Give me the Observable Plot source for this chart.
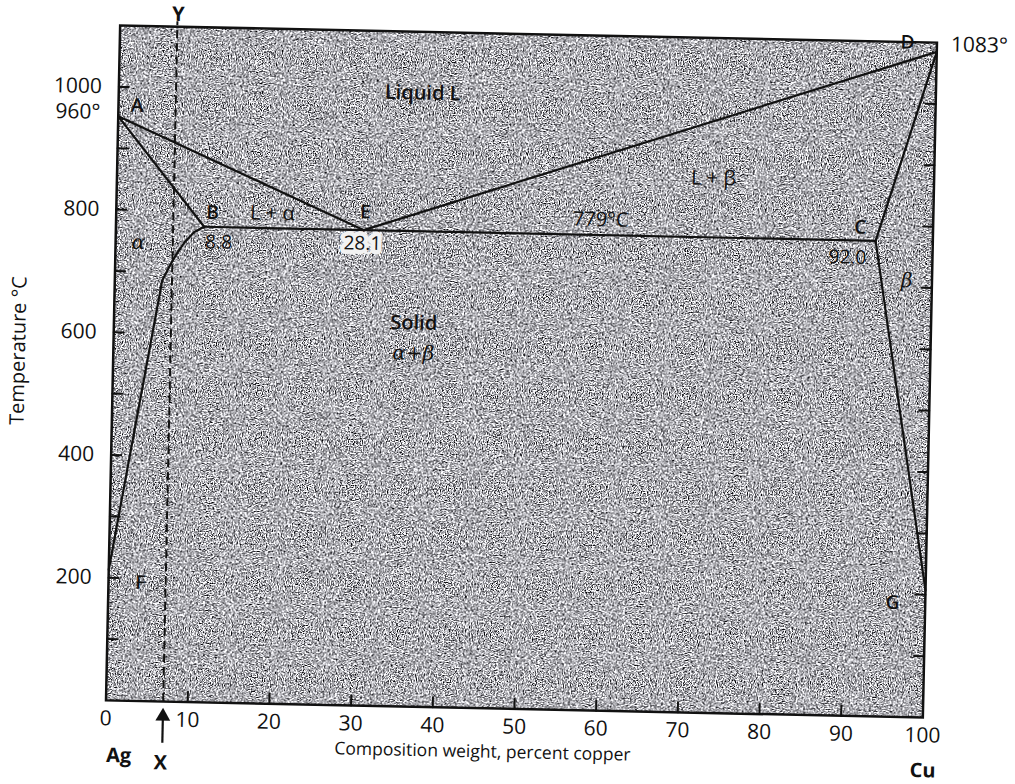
<!DOCTYPE html>
<html><head><meta charset="utf-8">
<script src="https://cdn.jsdelivr.net/npm/d3@7"></script>
<script src="https://cdn.jsdelivr.net/npm/@observablehq/plot@0.6"></script>
<style>
html,body{margin:0;padding:0;background:#fff;}
#chart svg{display:block;transform:rotate(1.2deg);transform-origin:521px 371px;overflow:visible;}
</style></head><body><div id="chart"></div>
<script>
// ---- data (composition % Cu, temperature °C) ----
const xTicks = [0, 10, 20, 30, 40, 50, 60, 70, 80, 90, 100];
const xInnerTicks = [10, 20, 30, 40, 50, 60, 70, 80, 90];
const yTickLabels = [200, 400, 600, 800, 1000];
const yTicks = [100, 200, 300, 400, 500, 600, 700, 800, 900, 1000];

const liquidusX = [0, 30.3, 100];
const liquidusT = [952, 775, 1085];
const solidusAlphaX = [0, 10.8];
const solidusAlphaT = [952, 775];
const eutecticX = [10.8, 93.0];
const eutecticT = [775, 775];
const solidusBetaX = [100, 93.0];
const solidusBetaT = [1085, 775];
const solvusAlphaX = [10.8, 9.6, 8.5, 7.5, 6.6, 5.8, 0];
const solvusAlphaT = [775, 766, 750, 730, 708, 686, 213];
const solvusBetaX = [93.0, 100];
const solvusBetaT = [775, 207];
const alloyX = 7;

const pointNames = ["A", "B", "C", "D", "E", "F", "G"];
const pointLabelX = [2.3, 11.8, 91.1, 96.4, 30.5, 3.9, 96.0];
const pointLabelT = [970, 798, 796, 1099, 804, 193, 186];

const compNames = ["8.8", "28.1", "92.0"];
const compLabelX = [12.6, 30.2, 89.6];
const compLabelT = [750, 753, 747];

const phaseNames = ["L + α", "L + β", "779°C"];
const phaseLabelX = [19.1, 73.0, 59.3];
const phaseLabelT = [799, 871, 800];

const greekNames = ["α", "β", "α+β"];
const greekLabelX = [2.8, 96.9, 36.7];
const greekLabelT = [747, 711, 576];

const boldNames = ["Liquid L", "Solid"];
const boldLabelX = [37.2, 36.7];
const boldLabelT = [1000, 625];

const outerNames = ["Y", "X", "Ag", "Cu"];
const outerLabelX = [7.1, 6.8, 1.7, 100.1];
const outerLabelT = [1120, -100, -90, -87];

const idx = a => a.map((_, i) => i);
const tickShape = {draw(ctx, l) { ctx.moveTo(0, 0); ctx.lineTo(0, -l); }};
const seg = (X, T) => X.map((x, i) => ({x, t: T[i]}));
const lineStyle = {x: "x", y: "t", stroke: "#111", strokeWidth: 2.2};

const plot = Plot.plot({
  width: 1015,
  height: 784,
  marginLeft: 112.5,
  marginRight: 85.5,
  marginTop: 33.5,
  marginBottom: 75.5,
  style: {fontFamily: "'Open Sans', sans-serif", color: "#111", background: "transparent"},
  x: {domain: [0, 100]},
  y: {domain: [0, 1100]},
  marks: [
    Plot.frame({fill: "#aaa", stroke: null}),
    Plot.axisX(xTicks, {tickSize: 0, tickPadding: 10, fontSize: 21, label: null, tickFormat: d => String(d)}),
    Plot.axisY(yTickLabels, {tickSize: 0, tickPadding: 17, fontSize: 21, label: null, tickFormat: d => String(d)}),
    Plot.text(["960°"], {x: () => 0, y: () => 958, dx: -18, textAnchor: "end", fontSize: 21}),
    Plot.text(["1083°"], {x: () => 101.7, y: () => 1097, textAnchor: "start", fontSize: 21}),
    Plot.text(["Composition weight, percent copper"], {x: () => 46.2, y: () => -71, fontSize: 17.5}),
    Plot.text(["Temperature °C"], {x: () => -11.6, y: () => 567, rotate: -90, fontSize: 20}),
    // phase boundaries
    Plot.line(seg(liquidusX, liquidusT), lineStyle),
    Plot.line(seg(solidusAlphaX, solidusAlphaT), lineStyle),
    Plot.line(seg(eutecticX, eutecticT), lineStyle),
    Plot.line(seg(solidusBetaX, solidusBetaT), lineStyle),
    Plot.line(seg(solvusAlphaX, solvusAlphaT), lineStyle),
    Plot.line(seg(solvusBetaX, solvusBetaT), lineStyle),
    // alloy X–Y
    Plot.ruleX([alloyX], {y1: 0, y2: 1108, stroke: "#111", strokeWidth: 2, strokeDasharray: "8,5"}),
    Plot.ruleX([alloyX], {y1: -68, y2: -30, stroke: "#111", strokeWidth: 2.2}),
    Plot.dot([alloyX], {x: d => d, y: () => -24, symbol: "triangle", r: 5.5, fill: "#111", stroke: null}),
    // labels
    Plot.text(idx(pointNames), {x: i => pointLabelX[i], y: i => pointLabelT[i], text: i => pointNames[i], fontSize: 19, fontWeight: 600}),
    Plot.text([1], {x: i => compLabelX[i], y: i => compLabelT[i], text: i => compNames[i], fontSize: 19, fill: "#f2f2f2", stroke: "#f2f2f2", strokeWidth: 9, strokeLinejoin: "round"}),
    Plot.text(idx(compNames), {x: i => compLabelX[i], y: i => compLabelT[i], text: i => compNames[i], fontSize: 19}),
    Plot.text(idx(phaseNames), {x: i => phaseLabelX[i], y: i => phaseLabelT[i], text: i => phaseNames[i], fontSize: 20}),
    Plot.text(idx(greekNames), {x: i => greekLabelX[i], y: i => greekLabelT[i], text: i => greekNames[i], fontSize: 20, fontStyle: "italic", fontFamily: "'DejaVu Serif', serif"}),
    Plot.text(idx(boldNames), {x: i => boldLabelX[i], y: i => boldLabelT[i], text: i => boldNames[i], fontSize: 20, fontWeight: 600}),
    Plot.text(idx(outerNames), {x: i => outerLabelX[i], y: i => outerLabelT[i], text: i => outerNames[i], fontSize: 20, fontWeight: 700}),
    // frame and inward ticks
    Plot.frame({stroke: "#111", strokeWidth: 2.5}),
    Plot.vector(xInnerTicks, {x: d => d, y: () => 0, length: 10, rotate: 0, anchor: "start", shape: tickShape, stroke: "#111", strokeWidth: 2}),
    Plot.vector(yTicks, {x: () => 0, y: d => d, length: 10, rotate: 90, anchor: "start", shape: tickShape, stroke: "#111", strokeWidth: 2}),
    Plot.vector(yTicks, {x: () => 100, y: d => d, length: 10, rotate: -90, anchor: "start", shape: tickShape, stroke: "#111", strokeWidth: 2})
  ]
});

// grain texture for the diagram field
const svg = d3.select(plot);
svg.insert("defs", ":first-child").html(`
<filter id="grain" x="0" y="0" width="1" height="1" color-interpolation-filters="sRGB">
  <feTurbulence type="fractalNoise" baseFrequency="0.85" numOctaves="2" seed="4"/>
  <feColorMatrix type="matrix" values="3 0 0 0 -0.82  3 0 0 0 -0.82  3 0 0 0 -0.80  0 0 0 0 1"/>
</filter>`);
const fr = plot.querySelector('[aria-label="frame"]');
const fillRect = fr.tagName.toLowerCase() === "rect" ? fr : fr.querySelector("rect");
fillRect.setAttribute("filter", "url(#grain)");

document.getElementById("chart").append(plot);
</script>
</body></html>
